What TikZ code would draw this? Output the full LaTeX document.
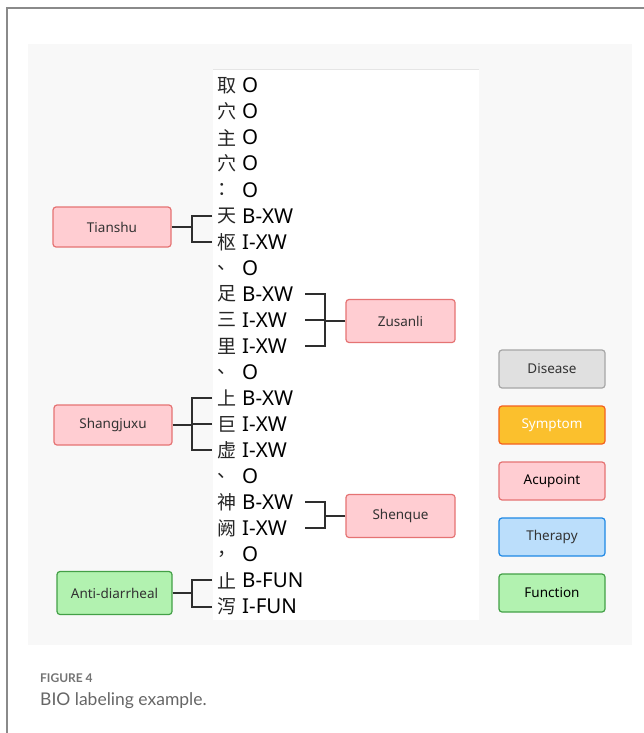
\documentclass[tikz,border=0pt]{standalone}
\usepackage{fontspec}
\setmainfont{Noto Sans}
\newfontfamily\cjk{Noto Sans CJK SC}
\newfontfamily\capfont{Lato}
\definecolor{panelbg}{HTML}{F8F8F8}
\definecolor{frame}{HTML}{8A8A8A}
\definecolor{linec}{HTML}{2E2E2E}
\definecolor{disfill}{HTML}{E0E0E0}\definecolor{disdraw}{HTML}{A6A6A6}
\definecolor{symfill}{HTML}{FBC02D}\definecolor{symdraw}{HTML}{F4611E}
\definecolor{acufill}{HTML}{FFCDD2}\definecolor{acudraw}{HTML}{E57373}
\definecolor{thefill}{HTML}{BBDEFB}\definecolor{thedraw}{HTML}{1E88E5}
\definecolor{funfill}{HTML}{B2F2B0}\definecolor{fundraw}{HTML}{43A047}
\definecolor{captxt}{HTML}{666666}
\tikzset{
  ent/.style={rounded corners=3pt, line width=1.2pt, minimum height=40pt, inner sep=2pt, font=\fontsize{13.5}{15}\selectfont, text=black!80},
  acu/.style={ent, fill=acufill, draw=acudraw, minimum width=118pt},
  acur/.style={ent, fill=acufill, draw=acudraw, minimum width=109pt, minimum height=43pt},
  fun/.style={ent, fill=funfill, draw=fundraw, minimum width=115pt, minimum height=43pt},
  leg/.style={ent, minimum width=106pt, minimum height=38pt},
  chr/.style={inner sep=0pt, font=\cjk\fontsize{19}{21}\selectfont, text=black!85},
  tagt/.style={inner sep=0pt, anchor=west, font=\fontsize{20.5}{22}\selectfont, text=black},
  brk/.style={line width=2pt, draw=linec},
}
\begin{document}
\begin{tikzpicture}[x=1pt,y=-1pt]
\useasboundingbox (0,0) rectangle (644,733);
\fill[white] (0,0) rectangle (644,733);
\draw[frame, line width=1.5pt] (7,733) -- (7,8) -- (644,8);
\fill[panelbg] (28,44) rectangle (632,645);
\fill[white] (213,69) rectangle (479,620);
\draw[black!10, line width=0.8pt] (213,69) -- (479,69);
\foreach \ch/\tg [count=\i] in {取/O,穴/O,主/O,穴/O,：/O,天/B-XW,枢/I-XW,、/O,足/B-XW,三/I-XW,里/I-XW,、/O,上/B-XW,巨/I-XW,虚/I-XW,、/O,神/B-XW,阙/I-XW,，/O,止/B-FUN,泻/I-FUN}{
  \pgfmathsetmacro{\yy}{85.5+(\i-1)*26.05}
  \node[chr] (c\i) at (227,\yy) {\ch};
  \node[tagt] (t\i) at (242,\yy) {\tg};
}
\coordinate (lx) at (192,0);
\coordinate (le) at (212,0);
\coordinate (rx) at (305,0);
\coordinate (rj) at (325,0);
% left brackets
\node[acu] (tianshu) at (112,227) {Tianshu};
\draw[brk] (tianshu.east) -- (tianshu.east -| lx);
\draw[brk] (le |- c6) -- (lx |- c6) -- (lx |- c7) -- (le |- c7);
\node[acu] (shang) at (113,425) {Shangjuxu};
\draw[brk] (shang.east) -- (shang.east -| lx);
\draw[brk] (le |- c13) -- (lx |- c13) -- (lx |- c15) -- (le |- c15);
\draw[brk] (le |- c14) -- (lx |- c14);
\node[fun] (anti) at (114.5,593) {Anti-diarrheal};
\draw[brk] (anti.east) -- (anti.east -| lx);
\draw[brk] (le |- c20) -- (lx |- c20) -- (lx |- c21) -- (le |- c21);
% right brackets
\node[acur] (zus) at (400.5,321) {Zusanli};
\draw[brk] (rx |- t9) -- (rj |- t9) -- (rj |- t11) -- (rx |- t11);
\draw[brk] (rx |- t10) -- (rj |- t10);
\draw[brk] (zus.west) -- (zus.west -| rj);
\node[acur] (shen) at (400.5,516) {Shenque};
\draw[brk] (rx |- t17) -- (rj |- t17) -- (rj |- t18) -- (rx |- t18);
\draw[brk] (shen.west) -- (shen.west -| rj);
% legend
\node[leg, fill=disfill, draw=disdraw] (lgdis) at (552,369) {Disease};
\node[leg, fill=symfill, draw=symdraw, text=white] (lgsym) at (552,425) {Symptom};
\node[leg, fill=acufill, draw=acudraw, text=black] (lgacu) at (552,481) {Acupoint};
\node[leg, fill=thefill, draw=thedraw] (lgthe) at (552,537) {Therapy};
\node[leg, fill=funfill, draw=fundraw, text=black] (lgfun) at (552,593) {Function};
% caption
\node[anchor=west, inner sep=0pt, text=black!55, font=\capfont\bfseries\fontsize{12}{14}\selectfont] (figno) at (40,678) {FIGURE 4};
\node[anchor=west, inner sep=0pt, text=captxt, font=\capfont\fontsize{17.5}{20}\selectfont] (cap) at (40,701) {BIO labeling example.};
\end{tikzpicture}
\end{document}
